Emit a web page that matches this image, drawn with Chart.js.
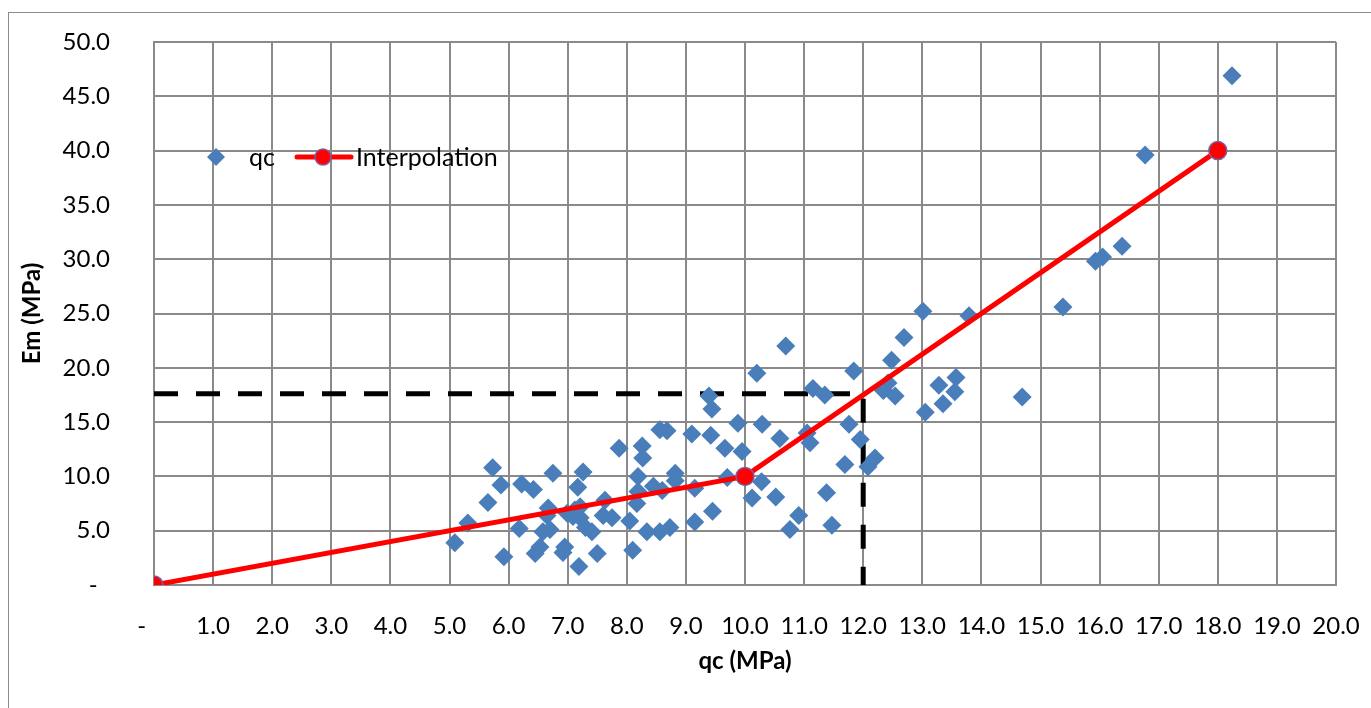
<!DOCTYPE html>
<html>
<head>
<meta charset="utf-8">
<script src="https://cdn.jsdelivr.net/npm/chart.js@4"></script>
<style>
  body { margin: 0; background: #fff; overflow: hidden; }
  #wrap { position: relative; width: 1371px; height: 708px; }
  #frame { position: absolute; left: 8px; top: 12px; width: 1400px; height: 800px; border: 1px solid #8c8c8c; }
  canvas { position: absolute; left: 0; top: 0; }
</style>
</head>
<body>
<div id="wrap">
  <div id="frame"></div>
  <canvas id="myChart" width="1371" height="708"></canvas>
</div>
<script>
// measured points (qc vs Em)
var qcX = [18.24, 16.77, 16.38, 16.05, 15.93, 15.38, 14.69, 13.79, 13.01, 12.69,
  12.48, 11.84, 12.34, 12.42, 12.54, 13.28, 13.57, 13.55, 13.35, 13.05,
  11.76, 11.95, 12.2, 12.08, 11.69, 10.69, 10.2, 11.15, 11.35, 9.39,
  9.44, 9.88, 10.29, 9.42, 10.59, 11.05, 11.1, 9.66, 9.95, 9.7,
  10.28, 10.12, 10.52, 11.38, 9.45, 9.15, 10.91, 10.76, 11.47, 8.56,
  8.68, 9.1, 7.87, 8.26, 8.27, 5.73, 5.87, 6.22, 6.42, 6.75,
  7.26, 7.17, 8.19, 8.82, 8.82, 9.15, 8.19, 8.45, 5.65, 5.31,
  5.09, 5.92, 6.18, 6.53, 6.45, 6.67, 6.65, 6.58, 6.7, 6.99,
  7.09, 7.21, 7.21, 7.3, 7.41, 6.95, 6.92, 7.19, 7.5, 7.63,
  7.6, 7.75, 8.05, 8.1, 8.34, 8.56, 8.73, 8.17, 8.6, 7.12];
var emY = [46.9, 39.6, 31.2, 30.2, 29.8, 25.6, 17.3, 24.8, 25.2, 22.8,
  20.7, 19.7, 17.9, 18.6, 17.4, 18.4, 19.1, 17.8, 16.7, 15.9,
  14.8, 13.4, 11.7, 10.9, 11.1, 22.0, 19.5, 18.1, 17.5, 17.4,
  16.2, 14.9, 14.8, 13.8, 13.5, 14.0, 13.1, 12.6, 12.3, 9.9,
  9.5, 8.0, 8.1, 8.5, 6.8, 5.8, 6.4, 5.1, 5.5, 14.3,
  14.2, 13.9, 12.6, 12.8, 11.7, 10.8, 9.2, 9.3, 8.8, 10.3,
  10.4, 9.0, 10.0, 10.3, 9.6, 8.9, 8.6, 9.1, 7.6, 5.7,
  3.9, 2.6, 5.2, 3.5, 2.9, 7.1, 6.4, 4.9, 5.1, 6.6,
  6.3, 7.2, 6.2, 5.3, 4.9, 3.5, 3.0, 1.7, 2.9, 7.8,
  6.4, 6.2, 5.9, 3.2, 4.9, 4.9, 5.3, 7.5, 8.7, 6.9];

// interpolation line
var interpX = [0, 10, 18];
var interpY = [0, 10, 40];

// dashed reading line
var readX = [0, 12, 12];
var readY = [17.6, 17.6, 0];

function toPoints(xs, ys) {
  var out = [];
  for (var i = 0; i < xs.length; i++) {
    out.push({ x: xs[i], y: ys[i] });
  }
  return out;
}

var FONT = "Lato, 'Open Sans', sans-serif";
var GRID = '#8a8a8a';

// legend drawn inside the plot
var insideLegend = {
  id: 'insideLegend',
  afterDraw: function(chart) {
    var c = chart.ctx;
    var y = 157;
    c.save();
    // qc diamond
    c.fillStyle = '#4a7ebb';
    c.beginPath();
    c.moveTo(216, y - 9);
    c.lineTo(225, y);
    c.lineTo(216, y + 9);
    c.lineTo(207, y);
    c.closePath();
    c.fill();
    c.fillStyle = '#000';
    c.font = '25px ' + FONT;
    c.textBaseline = 'middle';
    c.fillText('qc', 249, y + 1);
    // interpolation line
    c.strokeStyle = '#ff0000';
    c.lineWidth = 5;
    c.lineCap = 'round';
    c.beginPath();
    c.moveTo(297, y);
    c.lineTo(351, y);
    c.stroke();
    c.fillStyle = '#ff0000';
    c.strokeStyle = '#7a5fa8';
    c.lineWidth = 1.5;
    c.beginPath();
    c.arc(323, y, 8, 0, Math.PI * 2);
    c.fill();
    c.stroke();
    c.fillStyle = '#000';
    c.fillText('Interpolation', 356, y + 1);
    c.restore();
  }
};

// excel style: zero shown as a dash, shifted a bit left
function xTick(value) {
  return value === 0 ? '-    ' : value.toFixed(1);
}
function yTick(value) {
  return value === 0 ? '-  ' : value.toFixed(1);
}

var ctx = document.getElementById('myChart');
var chart = new Chart(ctx, {
  type: 'scatter',
  data: {
    datasets: [
      {
        label: 'Reading',
        type: 'line',
        data: toPoints(readX, readY),
        borderColor: '#000',
        borderWidth: 5,
        borderDash: [24, 18],
        pointRadius: 0,
        fill: false,
        order: 3
      },
      {
        label: 'qc',
        data: toPoints(qcX, emY),
        pointStyle: 'rectRot',
        pointRadius: 9.5,
        pointHoverRadius: 9.5,
        backgroundColor: '#4a7ebb',
        borderColor: '#4a7ebb',
        borderWidth: 0,
        order: 2
      },
      {
        label: 'Interpolation',
        type: 'line',
        data: toPoints(interpX, interpY),
        borderColor: '#ff0000',
        borderWidth: 5,
        pointRadius: 9,
        pointBackgroundColor: '#ff0000',
        pointBorderColor: '#7a5fa8',
        pointBorderWidth: 1.5,
        fill: false,
        order: 1
      }
    ]
  },
  options: {
    responsive: false,
    animation: false,
    layout: { padding: { top: 42, right: 35, left: 0, bottom: 0 } },
    plugins: {
      legend: { display: false },
      tooltip: { enabled: false }
    },
    scales: {
      x: {
        type: 'linear',
        min: 0,
        max: 20,
        afterFit: function(scale) {
          scale.height = 123;
          scale.paddingLeft = 0;
          scale.paddingRight = 0;
        },
        ticks: {
          stepSize: 1,
          padding: 27,
          color: '#000',
          font: { family: FONT, size: 24 },
          callback: xTick,
          maxRotation: 0,
          autoSkip: false
        },
        grid: { color: GRID, lineWidth: 2, drawTicks: false },
        border: { color: GRID, width: 2 },
        title: {
          display: true,
          text: 'qc (MPa)',
          color: '#000',
          font: { family: FONT, size: 24, weight: 'bold' },
          padding: { top: 0, bottom: 32 }
        }
      },
      y: {
        min: 0,
        max: 50,
        afterFit: function(scale) {
          scale.width = 154;
          scale.paddingTop = 0;
          scale.paddingBottom = 0;
        },
        ticks: {
          stepSize: 5,
          padding: 44,
          color: '#000',
          font: { family: FONT, size: 24 },
          callback: yTick
        },
        grid: { color: GRID, lineWidth: 2, drawTicks: false },
        border: { color: GRID, width: 2 },
        title: {
          display: true,
          text: 'Em (MPa)',
          color: '#000',
          font: { family: FONT, size: 24, weight: 'bold' },
          padding: { top: 18, bottom: 0 }
        }
      }
    }
  },
  plugins: [insideLegend]
});
</script>
</body>
</html>
